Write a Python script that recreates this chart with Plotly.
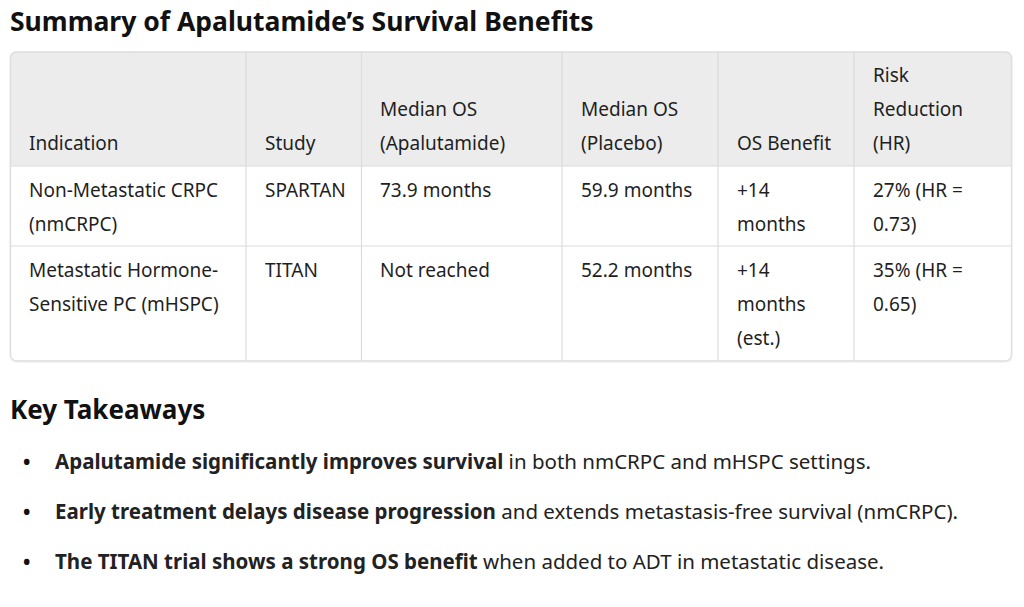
import plotly.graph_objects as go

# ---------------- data ----------------
title_text = "Summary of Apalutamide\u2019s Survival Benefits"
headers = ["Indication", "Study", "Median OS<br>(Apalutamide)", "Median OS<br>(Placebo)",
           "OS Benefit", "Risk<br>Reduction<br>(HR)"]
row_nmcrpc = ["Non-Metastatic CRPC<br>(nmCRPC)", "SPARTAN", "73.9 months", "59.9 months",
              "+14<br>months", "27% (HR =<br>0.73)"]
row_mhspc = ["Metastatic Hormone-<br>Sensitive PC (mHSPC)", "TITAN", "Not reached", "52.2 months",
             "+14<br>months<br>(est.)", "35% (HR =<br>0.65)"]
takeaways_title = "Key Takeaways"
takeaways_bold = ["Apalutamide significantly improves survival",
                  "Early treatment delays disease progression",
                  "The TITAN trial shows a strong OS benefit"]
takeaways_rest = [" in both nmCRPC and mHSPC settings.",
                  " and extends metastasis-free survival (nmCRPC).",
                  " when added to ADT in metastatic disease."]

# ---------------- layout geometry ----------------
FONT = "Noto Sans"
col_edges = [10.5, 246, 361.5, 562, 718, 854, 1011.5]
row_edges = [52, 166, 246, 361]
pad_x = 17.5
line_h = 34
text_color = "#1f1f1f"
OFF = 8  # default page margin of the html body

fig = go.Figure()
# invisible trace to establish axes
fig.add_trace(go.Scatter(x=[OFF, 1024], y=[OFF, 607], mode="markers",
                         marker=dict(opacity=0), hoverinfo="skip", showlegend=False))

shapes = []
L, R, T, B = col_edges[0], col_edges[-1], row_edges[0], row_edges[-1]
r = 7


def rounded_path(l, t, rr, b, rad, top=True, bottom=True):
    p = []
    if top:
        p.append(f"M {l},{t+rad} Q {l},{t} {l+rad},{t} L {rr-rad},{t} Q {rr},{t} {rr},{t+rad}")
    else:
        p.append(f"M {l},{t} L {rr},{t}")
    if bottom:
        p.append(f"L {rr},{b-rad} Q {rr},{b} {rr-rad},{b} L {l+rad},{b} Q {l},{b} {l},{b-rad}")
    else:
        p.append(f"L {rr},{b} L {l},{b}")
    p.append("Z")
    return " ".join(p)


# soft shadow
shapes.append(dict(type="path", xref="x", yref="y",
                   path=rounded_path(L - 1.5, T - 1, R + 1.5, B + 2, r + 1),
                   fillcolor="rgba(0,0,0,0.035)", line=dict(width=0), layer="below"))
# table background
shapes.append(dict(type="path", xref="x", yref="y", path=rounded_path(L, T, R, B, r),
                   fillcolor="#ffffff", line=dict(width=0), layer="below"))
# header background
shapes.append(dict(type="path", xref="x", yref="y",
                   path=rounded_path(L, T, R, row_edges[1], r, top=True, bottom=False),
                   fillcolor="#ececec", line=dict(width=0), layer="below"))
# grid lines
for xe in col_edges[1:-1]:
    shapes.append(dict(type="line", xref="x", yref="y", x0=xe, x1=xe, y0=T, y1=B,
                       line=dict(color="#dcdcdc", width=1.2), layer="below"))
for ye in row_edges[1:-1]:
    shapes.append(dict(type="line", xref="x", yref="y", x0=L, x1=R, y0=ye, y1=ye,
                       line=dict(color="#dcdcdc", width=1.2), layer="below"))
# outer border
shapes.append(dict(type="path", xref="x", yref="y", path=rounded_path(L, T, R, B, r),
                   fillcolor="rgba(0,0,0,0)", line=dict(color="#dedede", width=1.3), layer="below"))

annotations = []


def add_text(x, y, text, size, color=text_color, family=FONT, anchor="left"):
    annotations.append(dict(x=x, y=y, xref="x", yref="y", text=text, showarrow=False,
                            xanchor=anchor, yanchor="middle",
                            font=dict(family=family, size=size, color=color)))


TABLE_FS = 19

# title
add_text(8, 21, f"<b>{title_text}</b>", 26.5, color="#111111")

# header cells (bottom aligned)
header_last_y = 143
for i, h in enumerate(headers):
    lines = h.split("<br>")
    n = len(lines)
    for j, ln in enumerate(lines):
        add_text(col_edges[i] + pad_x - 1, header_last_y - (n - 1 - j) * line_h, ln, TABLE_FS)

# body rows (top aligned)
for row, y_first in ((row_nmcrpc, 190), (row_mhspc, 270)):
    for i, c in enumerate(row):
        for j, ln in enumerate(c.split("<br>")):
            add_text(col_edges[i] + pad_x - 1, y_first + j * line_h, ln, TABLE_FS)

# key takeaways
add_text(8, 409, f"<b>{takeaways_title}</b>", 26, color="#111111")
for k, (bt, rt) in enumerate(zip(takeaways_bold, takeaways_rest)):
    y = 461 + k * 50
    add_text(26, y, "\u2022", 25, color="#111111", anchor="center")
    add_text(53, y, f"<b>{bt}</b>{rt}", 20.5, color="#222222")

fig.update_layout(
    width=1024 - OFF, height=607 - OFF,
    margin=dict(l=0, r=0, t=0, b=0),
    paper_bgcolor="#ffffff", plot_bgcolor="#ffffff",
    xaxis=dict(range=[OFF, 1024], visible=False, fixedrange=True),
    yaxis=dict(range=[607, OFF], visible=False, fixedrange=True),
    shapes=shapes, annotations=annotations, showlegend=False,
)

fig.write_html("out.html")
